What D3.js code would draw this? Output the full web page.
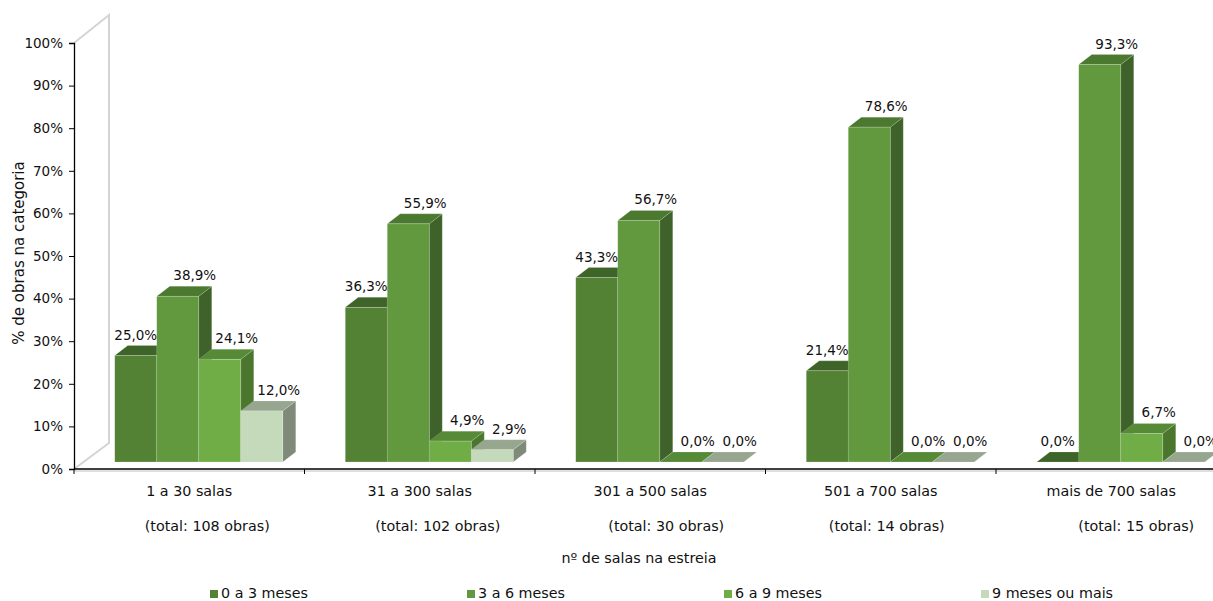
<!DOCTYPE html>
<html>
<head>
<meta charset="utf-8">
<script src="https://cdn.jsdelivr.net/npm/d3@7"></script>
<style>
  html, body { margin: 0; padding: 0; background: #fff; }
  svg { display: block; font-family: "DejaVu Sans", sans-serif; }
</style>
</head>
<body>
<svg id="chart" width="1213" height="601"></svg>
<script>
// ---------- data ----------
const categories = ["1 a 30 salas", "31 a 300 salas", "301 a 500 salas", "501 a 700 salas", "mais de 700 salas"];
const categoryTotals = ["(total: 108 obras)", "(total: 102 obras)", "(total: 30 obras)", "(total: 14 obras)", "(total: 15 obras)"];
const seriesNames = ["0 a 3 meses", "3 a 6 meses", "6 a 9 meses", "9 meses ou mais"];
const s0a3 = [25.0, 36.3, 43.3, 21.4, 0.0];
const s3a6 = [38.9, 55.9, 56.7, 78.6, 93.3];
const s6a9 = [24.1, 4.9, 0.0, 0.0, 6.7];
const s9mais = [12.0, 2.9, 0.0, 0.0, 0.0];
const yTicks = [0, 10, 20, 30, 40, 50, 60, 70, 80, 90, 100];
const xTitle = "nº de salas na estreia";
const yTitle = "% de obras na categoria";

const seriesValues = [s0a3, s3a6, s6a9, s9mais];

// ---------- styles ----------
const faceColors = [
  { front: "#548235", top: "#3f6429", side: "#3c5f27" },
  { front: "#62993f", top: "#4b792f", side: "#3e6229" },
  { front: "#70ad47", top: "#568a37", side: "#4a772d" },
  { front: "#c4dabb", top: "#97a78f", side: "#7f8b78" }
];
const legendColors = ["#548235", "#62993f", "#70ad47", "#c4dabb"];

// ---------- layout ----------
const svg = d3.select("#chart");
const axisLeft = 74, step = 230.5;
const yBase = 469, yTop = 43;
const wallDx = 35, wallDy = -27;
const barShiftX = 9.5, barShiftY = -7;   // bars sit inside the floor depth
const barDx = 13, barDy = -10;           // bar depth
const subShift = [18, 18, 16, 6, 25];

const x = d3.scaleBand().domain(categories).range([axisLeft, axisLeft + step * categories.length]).padding(0);
const xs = d3.scaleBand().domain(seriesNames).range([0, x.bandwidth()]).paddingInner(0).paddingOuter(0.744);
const y = d3.scaleLinear().domain([0, 100]).range([yBase, yTop]);

// back/side wall outline
svg.append("path")
  .attr("d", `M${axisLeft},${yBase} L${axisLeft + wallDx},${yBase + wallDy + 1} L${axisLeft + wallDx},${yTop + wallDy - 1} L${axisLeft},${yTop}`)
  .attr("fill", "none").attr("stroke", "#d4d4d4").attr("stroke-width", 2);

// bars
const gBars = svg.append("g");
categories.forEach((cat, ci) => {
  seriesNames.forEach((sn, si) => {
    const v = seriesValues[si][ci];
    const c = faceColors[si];
    const xl = x(cat) + xs(sn) + barShiftX;
    const xr = xl + xs.bandwidth();
    const yb = y(0) + barShiftY;
    const yt = y(v) + barShiftY;
    const g = gBars.append("g");
    if (v > 0) {
      g.append("path").attr("d", `M${xr},${yt} L${xr + barDx},${yt + barDy} L${xr + barDx},${yb + barDy} L${xr},${yb} Z`)
        .attr("fill", c.side).attr("stroke", "rgba(255,255,255,0.25)").attr("stroke-width", 0.6);
    }
    g.append("path").attr("d", `M${xl},${yt} L${xl + barDx},${yt + barDy} L${xr + barDx},${yt + barDy} L${xr},${yt} Z`)
      .attr("fill", c.top).attr("stroke", "rgba(255,255,255,0.25)").attr("stroke-width", 0.6);
    if (v > 0) {
      g.append("rect").attr("x", xl).attr("y", yt).attr("width", xr - xl).attr("height", yb - yt)
        .attr("fill", c.front).attr("stroke", "rgba(255,255,255,0.3)").attr("stroke-width", 0.6);
    }
  });
});

// data labels
const gLabels = svg.append("g").attr("font-size", "13.5px").attr("fill", "#111").attr("text-anchor", "middle");
categories.forEach((cat, ci) => {
  seriesNames.forEach((sn, si) => {
    const v = seriesValues[si][ci];
    const next = si < seriesNames.length - 1 ? seriesValues[si + 1][ci] : -1;
    const xl = x(cat) + xs(sn) + barShiftX;
    const cx = xl + xs.bandwidth() / 2 + (next > v ? 0 : 17);
    const yt = y(v) + barShiftY + barDy;
    gLabels.append("text").attr("x", cx).attr("y", yt - 6)
      .text(v.toFixed(1).replace(".", ",") + "%");
  });
});

// y axis
const gy = svg.append("g").attr("transform", `translate(${axisLeft},0)`)
  .call(d3.axisLeft(y).tickValues(yTicks).tickSize(5).tickPadding(6).tickFormat(d => d + "%"));
gy.select(".domain").attr("stroke", "#000").attr("stroke-width", 1.3);
gy.selectAll(".tick line").attr("stroke", "#000");
gy.selectAll("text").attr("font-size", "13.5px").attr("fill", "#111").attr("font-family", "DejaVu Sans, sans-serif");

// x axis
svg.append("line").attr("x1", axisLeft).attr("x2", 1213).attr("y1", yBase).attr("y2", yBase)
  .attr("stroke", "#000").attr("stroke-width", 1.5);
svg.append("line").attr("x1", axisLeft).attr("x2", 1213).attr("y1", yBase + 2).attr("y2", yBase + 2)
  .attr("stroke", "#bfbfbf").attr("stroke-width", 1);
categories.forEach(cat => {
  svg.append("line").attr("x1", x(cat)).attr("x2", x(cat)).attr("y1", yBase).attr("y2", yBase + 5).attr("stroke", "#000");
});
svg.append("line").attr("x1", x(categories[4]) + step).attr("x2", x(categories[4]) + step)
  .attr("y1", yBase).attr("y2", yBase + 5).attr("stroke", "#000");

const gx = svg.append("g").attr("font-size", "14.3px").attr("fill", "#111").attr("text-anchor", "middle");
categories.forEach((cat, ci) => {
  const cx = x(cat) + x.bandwidth() / 2;
  gx.append("text").attr("x", cx).attr("y", 496).text(cat);
  gx.append("text").attr("x", cx + subShift[ci]).attr("y", 531).text(categoryTotals[ci]);
});

// axis titles
svg.append("text").attr("x", 639).attr("y", 563).attr("text-anchor", "middle")
  .attr("font-size", "14.3px").attr("fill", "#111").text(xTitle);
svg.append("text").attr("transform", "translate(24,253) rotate(-90)").attr("text-anchor", "middle")
  .attr("font-size", "15px").attr("fill", "#111").text(yTitle);

// legend
const gLeg = svg.append("g");
seriesNames.forEach((sn, i) => {
  const lx = 210 + i * 257;
  gLeg.append("rect").attr("x", lx).attr("y", 590).attr("width", 8).attr("height", 8).attr("fill", legendColors[i]);
  gLeg.append("text").attr("x", lx + 11).attr("y", 598).attr("font-size", "14.3px").attr("fill", "#111").text(sn);
});
</script>
</body>
</html>
